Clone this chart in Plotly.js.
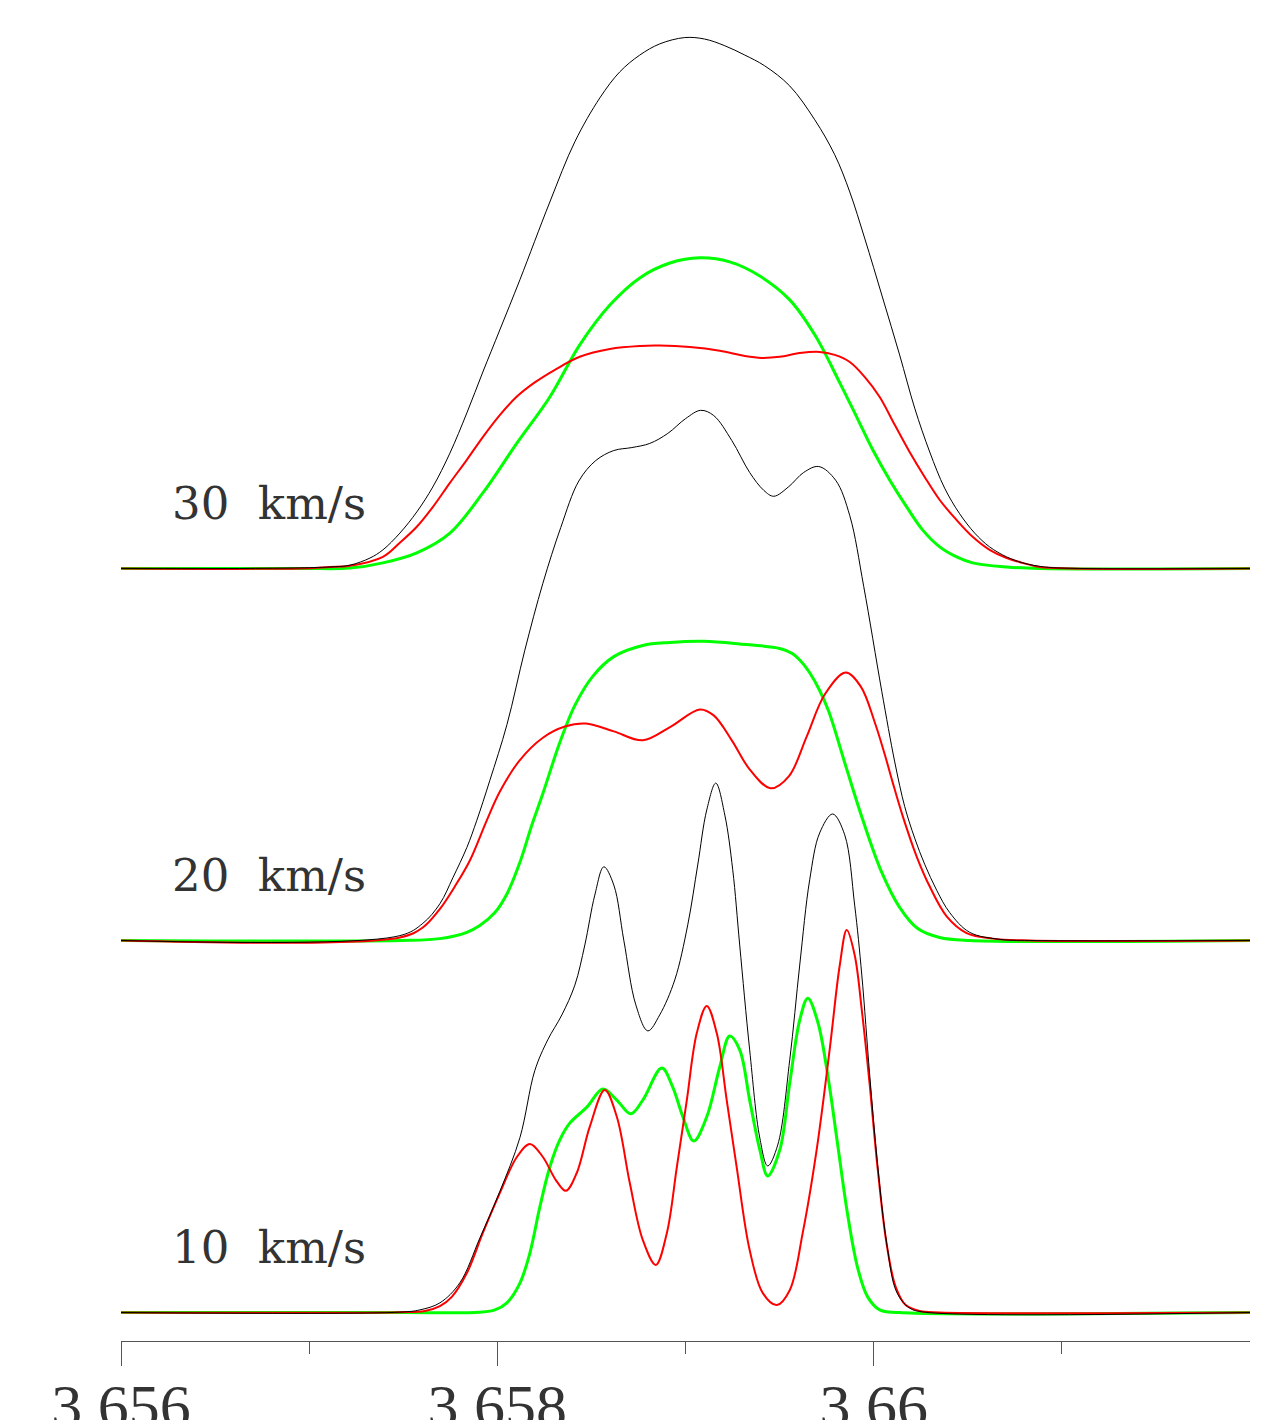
<!DOCTYPE html>
<html>
<head>
<meta charset="utf-8">
<script src="https://cdn.plot.ly/plotly-3.0.1.min.js"></script>
<style>html,body{margin:0;padding:0;background:#fff;}#chart{width:1271px;height:1420px;}</style>
</head>
<body>
<div id="chart"></div>
<script>
// ---- data (wavelength in micron, flux in arbitrary units) ----
const labels = ['10\u00A0\u00A0km/s', '20\u00A0\u00A0km/s', '30\u00A0\u00A0km/s'];
const tickVals = [3.656, 3.658, 3.66];
const tickText = ['3.656', '3.658', '3.66'];
const minorTickVals = [3.657, 3.659, 3.661];

// 10 km/s
const wl10Black = [3.656,3.657482,3.657588,3.657695,3.657801,3.657907,3.658013,3.658120,3.658199,3.658268,3.658343,3.658412,3.658465,3.658518,3.658566,3.658619,3.658672,3.658736,3.658800,3.658863,3.658943,3.659012,3.659065,3.659113,3.659161,3.659209,3.659251,3.659288,3.659341,3.659395,3.659437,3.659490,3.659554,3.659607,3.659660,3.659713,3.659782,3.659846,3.659899,3.659937,3.659979,3.660021,3.660069,3.660122,3.660191,3.660271,3.662];
const f10Black = [0,0.001,0.007,0.026,0.08,0.2,0.325,0.47,0.65,0.733,0.80,0.88,0.988,1.122,1.198,1.149,1.001,0.827,0.757,0.80,0.894,1.042,1.203,1.351,1.423,1.337,1.19,0.988,0.706,0.469,0.394,0.45,0.679,0.934,1.163,1.289,1.34,1.284,1.095,0.907,0.638,0.397,0.187,0.055,0.012,0.001,0];
const wl10Red = [3.656,3.657482,3.657615,3.657695,3.657758,3.657838,3.657923,3.658013,3.658104,3.658173,3.658242,3.658311,3.658364,3.658422,3.658491,3.658571,3.658635,3.658704,3.658773,3.658842,3.658901,3.658954,3.659007,3.659060,3.659113,3.659166,3.659219,3.659272,3.659341,3.659411,3.659485,3.659554,3.659623,3.659697,3.659766,3.659820,3.659857,3.659899,3.659937,3.659979,3.660021,3.660069,3.660117,3.660170,3.660245,3.660351,3.662];
const f10Red = [0,0.001,0.004,0.017,0.042,0.106,0.214,0.321,0.418,0.453,0.418,0.356,0.327,0.375,0.499,0.598,0.526,0.348,0.195,0.128,0.214,0.391,0.571,0.751,0.824,0.751,0.571,0.391,0.168,0.052,0.020,0.060,0.214,0.437,0.706,0.934,1.028,0.961,0.813,0.612,0.388,0.184,0.069,0.020,0.004,0,0];
const wl10Green = [3.656,3.657482,3.657907,3.657987,3.658051,3.658120,3.658173,3.658226,3.658279,3.658332,3.658385,3.658476,3.658561,3.658635,3.658709,3.658773,3.658874,3.658932,3.658986,3.659044,3.659113,3.659182,3.659235,3.659288,3.659341,3.659395,3.659437,3.659501,3.659554,3.659607,3.659650,3.659703,3.659756,3.659809,3.659862,3.659915,3.659968,3.660032,3.660138,3.662];
const f10Green = [0,0,0.001,0.007,0.026,0.079,0.160,0.284,0.391,0.464,0.509,0.552,0.601,0.571,0.534,0.571,0.657,0.606,0.526,0.461,0.526,0.660,0.743,0.706,0.571,0.437,0.367,0.437,0.617,0.786,0.845,0.781,0.638,0.450,0.262,0.120,0.042,0.007,0,0];

// 20 km/s
const wl20Black = [3.656,3.657482,3.657604,3.657695,3.657764,3.657838,3.657891,3.657960,3.658051,3.658146,3.658242,3.658337,3.658433,3.658523,3.658619,3.658715,3.658810,3.658906,3.659001,3.659081,3.659150,3.659246,3.659341,3.659416,3.659469,3.659549,3.659628,3.659708,3.659798,3.659873,3.659947,3.660043,3.660112,3.660165,3.660218,3.660271,3.660335,3.660404,3.660510,3.660670,3.660829,3.662];
const f20Black = [0,0.013,0.046,0.099,0.169,0.250,0.323,0.43,0.58,0.78,0.96,1.11,1.235,1.29,1.317,1.325,1.336,1.363,1.403,1.425,1.411,1.344,1.258,1.21,1.194,1.22,1.258,1.274,1.237,1.142,0.952,0.67,0.48,0.36,0.275,0.205,0.135,0.075,0.022,0.003,0,0];
const wl20Red = [3.656,3.657482,3.657604,3.657695,3.657774,3.657854,3.657944,3.658013,3.658120,3.658242,3.658359,3.658470,3.658619,3.658773,3.658922,3.659076,3.659150,3.659246,3.659341,3.659453,3.659549,3.659644,3.659740,3.659851,3.659931,3.660006,3.660059,3.660101,3.660154,3.660229,3.660298,3.660388,3.660494,3.660632,3.660829,3.662];
const f20Red = [0,0.008,0.035,0.085,0.145,0.215,0.323,0.40,0.485,0.545,0.575,0.583,0.562,0.538,0.575,0.621,0.605,0.538,0.46,0.409,0.441,0.548,0.661,0.72,0.683,0.586,0.50,0.425,0.335,0.225,0.145,0.065,0.02,0.005,0,0];
const wl20Green = [3.656,3.657482,3.657695,3.657838,3.657907,3.657987,3.658051,3.658120,3.658183,3.658242,3.658332,3.658412,3.658507,3.658619,3.658773,3.658917,3.659097,3.659288,3.659501,3.659565,3.659618,3.659666,3.659713,3.659761,3.659851,3.659947,3.660043,3.660138,3.660234,3.660351,3.660510,3.662];
const f20Green = [0,0,0.005,0.022,0.04,0.075,0.125,0.21,0.31,0.395,0.532,0.632,0.710,0.763,0.793,0.801,0.804,0.797,0.785,0.772,0.748,0.715,0.672,0.616,0.470,0.317,0.183,0.089,0.032,0.008,0,0];

// 30 km/s
const wl30Black = [3.656,3.656685,3.657110,3.657217,3.657323,3.657392,3.657482,3.657572,3.657657,3.657748,3.657838,3.657923,3.658013,3.658120,3.658279,3.658412,3.658545,3.658651,3.658757,3.658863,3.658996,3.659102,3.659209,3.659315,3.659421,3.659554,3.659687,3.659793,3.659873,3.659952,3.660048,3.660138,3.660218,3.660298,3.660377,3.660457,3.660537,3.660616,3.660707,3.660792,3.660909,3.661095,3.662];
const f30Black = [0,0,0.004,0.009,0.028,0.050,0.095,0.152,0.219,0.310,0.418,0.528,0.641,0.776,0.985,1.147,1.265,1.335,1.380,1.410,1.427,1.423,1.405,1.380,1.351,1.297,1.206,1.112,1.012,0.888,0.727,0.574,0.431,0.313,0.216,0.147,0.095,0.058,0.031,0.015,0.004,0,0];
const wl30Red = [3.656,3.656951,3.657110,3.657217,3.657392,3.657482,3.657572,3.657657,3.657748,3.657838,3.657923,3.658013,3.658104,3.658199,3.658306,3.658438,3.658598,3.658757,3.658863,3.659023,3.659182,3.659315,3.659405,3.659501,3.659607,3.659713,3.659793,3.659873,3.659952,3.660032,3.660112,3.660191,3.660271,3.660351,3.660441,3.660526,3.660616,3.660707,3.660792,3.660882,3.661041,3.662];
const f30Red = [0,0,0.004,0.007,0.031,0.069,0.112,0.165,0.230,0.292,0.353,0.412,0.462,0.500,0.534,0.569,0.590,0.598,0.599,0.595,0.585,0.571,0.566,0.569,0.579,0.582,0.574,0.555,0.515,0.461,0.386,0.313,0.246,0.184,0.130,0.085,0.050,0.028,0.015,0.004,0,0];
const wl30Green = [3.656,3.656951,3.657217,3.657392,3.657572,3.657748,3.657923,3.658104,3.658279,3.658438,3.658598,3.658757,3.658917,3.659076,3.659235,3.659395,3.659554,3.659687,3.659820,3.659910,3.659995,3.660085,3.660176,3.660261,3.660351,3.660441,3.660526,3.660707,3.660882,3.662];
const f30Green = [0,0,0.001,0.015,0.042,0.095,0.203,0.337,0.461,0.601,0.708,0.781,0.821,0.835,0.824,0.786,0.722,0.628,0.499,0.407,0.319,0.238,0.165,0.103,0.058,0.031,0.015,0.004,0,0];

// ---- build ----
const STEP = 1.0; // vertical offset between the three profiles
const panels = [
  {g:[wl10Green,f10Green], r:[wl10Red,f10Red], k:[wl10Black,f10Black]},
  {g:[wl20Green,f20Green], r:[wl20Red,f20Red], k:[wl20Black,f20Black]},
  {g:[wl30Green,f30Green], r:[wl30Red,f30Red], k:[wl30Black,f30Black]}
];
const styles = {g:{color:'#00ff00', width:3}, r:{color:'#ff0000', width:2}, k:{color:'#000000', width:1}};
const traces = [];
panels.forEach((p, i) => {
  ['g','r','k'].forEach(key => {
    const [xs, ys] = p[key];
    traces.push({
      x: xs, y: ys.map(v => v + i*STEP), type: 'scatter', mode: 'lines',
      line: {color: styles[key].color, width: styles[key].width, shape: 'spline', smoothing: 1.0},
      hoverinfo: 'skip', showlegend: false
    });
  });
});

const annotations = labels.map((t, i) => ({
  text: t, xref: 'x', yref: 'y', x: 3.65626, y: i*STEP + 0.175,
  xanchor: 'left', yanchor: 'middle', showarrow: false,
  font: {family: 'DejaVu Serif', size: 45, color: '#333333'}
}));

const layout = {
  width: 1271, height: 1420,
  margin: {l: 121, r: 21, t: 0, b: 79, pad: 0},
  paper_bgcolor: '#ffffff', plot_bgcolor: '#ffffff',
  showlegend: false,
  xaxis: {
    range: [3.656, 3.662], showgrid: false, zeroline: false,
    showline: true, linecolor: '#555555', linewidth: 1,
    ticks: 'outside', ticklen: 24, tickwidth: 1, tickcolor: '#555555',
    tickmode: 'array', tickvals: tickVals, ticktext: tickText,
    ticklabelstandoff: -13,
    tickfont: {family: 'Liberation Serif', size: 62, color: '#333333'},
    minor: {tickmode: 'array', tickvals: minorTickVals, ticks: 'outside', ticklen: 12, tickwidth: 1, tickcolor: '#555555', showgrid: false},
    fixedrange: true
  },
  yaxis: {range: [-0.0766, 3.528], visible: false, showgrid: false, zeroline: false, fixedrange: true},
  annotations: annotations
};

Plotly.newPlot('chart', traces, layout, {displayModeBar: false, staticPlot: true});
</script>
</body>
</html>
